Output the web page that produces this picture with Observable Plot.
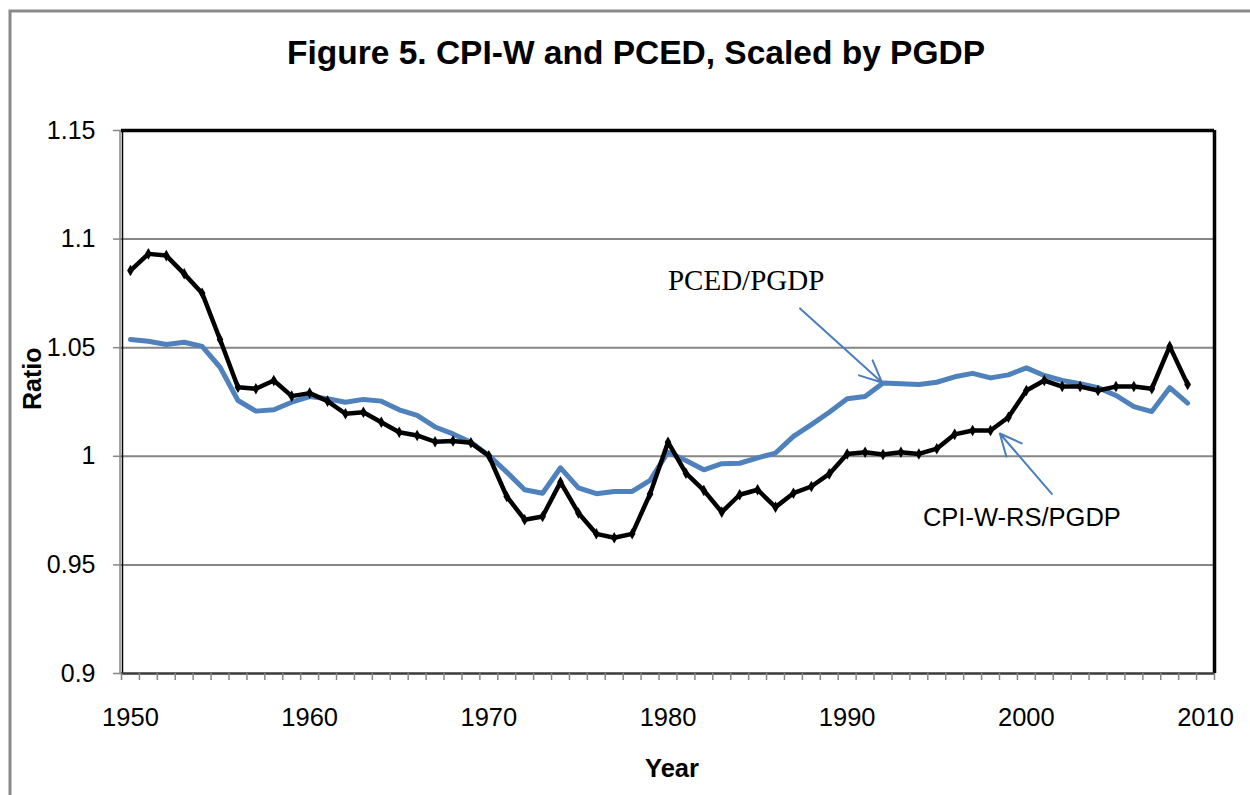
<!DOCTYPE html>
<html>
<head>
<meta charset="utf-8">
<script src="https://cdn.jsdelivr.net/npm/d3@7"></script>
<script src="https://cdn.jsdelivr.net/npm/@observablehq/plot@0.6"></script>
<style>
  html, body { margin: 0; padding: 0; background: white; }
  #chart svg { display: block; }
</style>
</head>
<body>
<div id="chart"></div>
<script>
const years = [1950,1951,1952,1953,1954,1955,1956,1957,1958,1959,
  1960,1961,1962,1963,1964,1965,1966,1967,1968,1969,
  1970,1971,1972,1973,1974,1975,1976,1977,1978,1979,
  1980,1981,1982,1983,1984,1985,1986,1987,1988,1989,
  1990,1991,1992,1993,1994,1995,1996,1997,1998,1999,
  2000,2001,2002,2003,2004,2005,2006,2007,2008,2009];

const cpiwRsPgdp = [1.0855,1.0932,1.0924,1.0840,1.0751,1.0538,1.0318,1.0311,1.0349,1.0277,
  1.0291,1.0254,1.0196,1.0203,1.0157,1.0111,1.0096,1.0067,1.0070,1.0062,
  1.0002,0.9815,0.9708,0.9723,0.9881,0.9739,0.9643,0.9625,0.9643,0.9827,
  1.0065,0.9922,0.9843,0.9743,0.9823,0.9846,0.9766,0.9830,0.9861,0.9919,
  1.0011,1.0019,1.0008,1.0019,1.0011,1.0035,1.0101,1.0119,1.0119,1.0180,
  1.0303,1.0349,1.0321,1.0321,1.0303,1.0321,1.0321,1.0311,1.0506,1.0331];

const pcedPgdp = [1.0538,1.0530,1.0515,1.0525,1.0506,1.0410,1.0257,1.0208,1.0214,1.0249,
  1.0275,1.0265,1.0249,1.0262,1.0254,1.0214,1.0188,1.0135,1.0103,1.0065,
  1.0004,0.9927,0.9846,0.9830,0.9947,0.9855,0.9828,0.9838,0.9838,0.9889,
  1.0019,0.9981,0.9938,0.9966,0.9968,0.9993,1.0015,1.0092,1.0146,1.0203,
  1.0265,1.0275,1.0337,1.0334,1.0331,1.0341,1.0366,1.0382,1.0361,1.0375,
  1.0407,1.0372,1.0349,1.0334,1.0316,1.0280,1.0229,1.0206,1.0316,1.0245];

const xTickLabels = [1950,1960,1970,1980,1990,2000,2010];
const xMinorTicks = [1949.5,1950.5,1951.5,1952.5,1953.5,1954.5,1955.5,1956.5,1957.5,1958.5,1959.5,
  1960.5,1961.5,1962.5,1963.5,1964.5,1965.5,1966.5,1967.5,1968.5,1969.5,
  1970.5,1971.5,1972.5,1973.5,1974.5,1975.5,1976.5,1977.5,1978.5,1979.5,
  1980.5,1981.5,1982.5,1983.5,1984.5,1985.5,1986.5,1987.5,1988.5,1989.5,
  1990.5,1991.5,1992.5,1993.5,1994.5,1995.5,1996.5,1997.5,1998.5,1999.5,
  2000.5,2001.5,2002.5,2003.5,2004.5,2005.5,2006.5,2007.5,2008.5,2009.5,2010.5];
const yTicks = [0.9,0.95,1,1.05,1.1,1.15];
const yGrid = [0.95,1,1.05,1.1];
const xDomain = [1949.5, 2010.5];
const yDomain = [0.9, 1.15];

const titleText = "Figure 5. CPI-W and PCED, Scaled by PGDP";
const xLabel = "Year";
const yLabel = "Ratio";

// annotation labels and arrows (in data coordinates)
const labelNames = ["PCED/PGDP", "CPI-W-RS/PGDP"];
const labelX = [1984.36, 1999.75];
const labelY = [1.0809, 0.9718];
const arrowX1 = [1987.37, 2001.42];
const arrowY1 = [1.0681, 0.9827];
const arrowX2 = [1991.94, 1998.52];
const arrowY2 = [1.0340, 1.0105];

const blackData = years.map((yr, i) => ({year: yr, value: cpiwRsPgdp[i]}));
const blueData = years.map((yr, i) => ({year: yr, value: pcedPgdp[i]}));
const labels = labelNames.map((t, i) => ({text: t, x: labelX[i], y: labelY[i]}));
const arrows = arrowX1.map((v, i) => ({x1: v, y1: arrowY1[i], x2: arrowX2[i], y2: arrowY2[i]}));

const sans = "'Liberation Sans', Arial, sans-serif";
const serif = "'Liberation Serif', 'Times New Roman', serif";

const chart = Plot.plot({
  width: 1250,
  height: 795,
  marginLeft: 121,
  marginRight: 36,
  marginTop: 130,
  marginBottom: 122,
  style: {fontFamily: sans, background: "white", color: "black", overflow: "visible"},
  x: {domain: xDomain, axis: null},
  y: {domain: yDomain, axis: null},
  marks: [
    Plot.ruleY(yGrid, {stroke: "#868686", strokeWidth: 2}),
    Plot.ruleY([yDomain[1]], {stroke: "black", strokeWidth: 3.5}),
    Plot.ruleX([xDomain[1]], {stroke: "black", strokeWidth: 3.5}),
    Plot.ruleX([xDomain[0]], {stroke: "#868686", strokeWidth: 1.5, dx: -1.5}),
    Plot.ruleX([xDomain[0]], {stroke: "black", strokeWidth: 1.5, dx: 1}),
    Plot.ruleY([yDomain[0]], {stroke: "#3a3a3a", strokeWidth: 2.5}),
    Plot.axisX(xMinorTicks, {tickSize: 7, tickFormat: () => "", stroke: "#868686", strokeWidth: 1.5}),
    Plot.axisX(xTickLabels, {tickSize: 0, tickPadding: 34, fontSize: 25.5, tickFormat: d => String(d), fill: "black"}),
    Plot.axisY(yTicks, {tickSize: 8, tickPadding: 18, fontSize: 25, tickFormat: d => String(d), stroke: "#868686", strokeWidth: 1.5, fill: "black"}),
    Plot.line(blueData, {x: "year", y: "value", stroke: "#4F81BD", strokeWidth: 5, strokeLinejoin: "round"}),
    Plot.line(blackData, {x: "year", y: "value", stroke: "black", strokeWidth: 4.5, strokeLinejoin: "round"}),
    Plot.dot(blackData, {x: "year", y: "value", symbol: "diamond", fill: "black", r: 3.5}),
    Plot.arrow(arrows, {x1: "x1", y1: "y1", x2: "x2", y2: "y2", stroke: "#4A7EBB", strokeWidth: 2, headLength: 18, headAngle: 50, bend: 0}),
    Plot.text(labels.slice(0,1), {x: "x", y: "y", text: "text", fontFamily: serif, fontSize: 29, fill: "black"}),
    Plot.text(labels.slice(1), {x: "x", y: "y", text: "text", fontFamily: sans, fontSize: 25.5, fill: "black"}),
    Plot.text([titleText], {frameAnchor: "top", dx: -32, dy: -90, fontSize: 33.5, fontWeight: "bold", fill: "black"}),
    Plot.text([xLabel], {frameAnchor: "bottom", dx: 4, dy: 103, fontSize: 25.5, fontWeight: "bold", fill: "black"}),
    Plot.text([yLabel], {frameAnchor: "left", dx: -89, dy: 8, rotate: -90, fontSize: 25, fontWeight: "bold", fill: "black"})
  ]
});

document.getElementById("chart").appendChild(chart);

// outer chart-area border (gray, left and top edges)
d3.select(chart).append("path")
  .attr("d", "M10,800 V11 H1260")
  .attr("fill", "none")
  .attr("stroke", "#898989")
  .attr("stroke-width", 3);
</script>
</body>
</html>
